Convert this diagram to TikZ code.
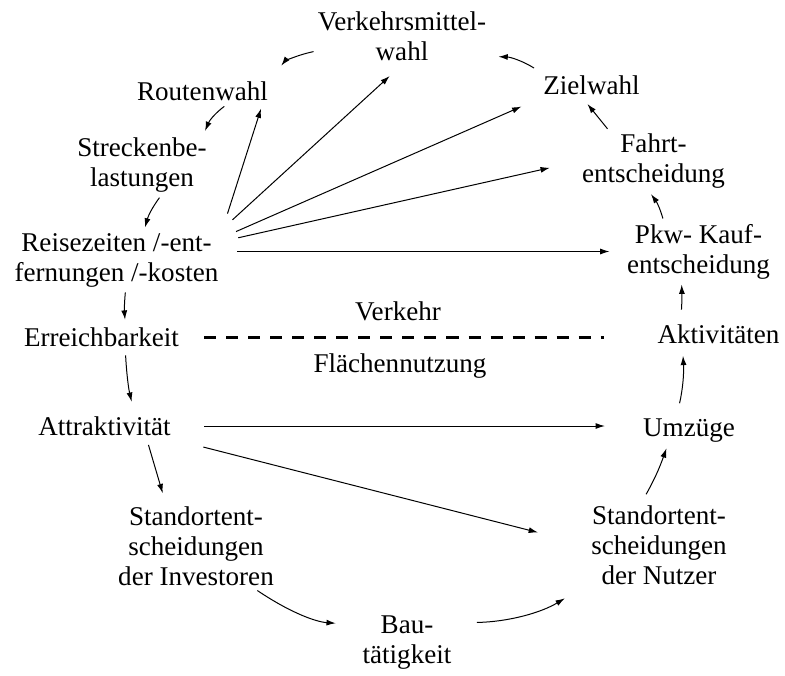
\documentclass[tikz,border=0pt]{standalone}
\usepackage{fontspec}
\setmainfont{Liberation Serif}
\usetikzlibrary{arrows.meta}

\begin{document}
\begin{tikzpicture}[x=0.75pt, y=-0.75pt,
    term/.style={align=center, inner sep=3pt, font=\fontsize{20.3}{22.5}\selectfont},
    arr/.style={-{Latex[length=7pt,width=4.5pt]}, line width=0.75pt},
    divider/.style={line width=2.2pt, dash pattern=on 9pt off 7.5pt}]
    \useasboundingbox (0,0) rectangle (785,675);

    \node[term] (vmw)     at (402,36)      {Verkehrsmittel-\\wahl};
    \node[term] (route)   at (202.5,91)    {Routenwahl};
    \node[term] (ziel)    at (591.5,85)    {Zielwahl};
    \node[term] (fahrt)   at (653.5,161.5) {Fahrt-\\entscheidung};
    \node[term] (pkw)     at (698.5,251.5) {Pkw- Kauf-\\entscheidung};
    \node[term] (strecke) at (142,165)     {Streckenbe-\\lastungen};
    \node[term] (reise)   at (116.5,260)   {Reisezeiten /-ent-\\fernungen /-kosten};
    \node[term] (erreich) at (101.5,337.5) {Erreichbarkeit};
    \node[term] (attr)    at (104.5,426)   {Attraktivität};
    \node[term] (aktiv)   at (718.5,334)   {Aktivitäten};
    \node[term] (umz)     at (689,431)     {Umzüge};
    \node[term] (invest)  at (196,546)     {Standortent-\\scheidungen\\der Investoren};
    \node[term] (nutzer)  at (659,545)     {Standortent-\\scheidungen\\der Nutzer};
    \node[term] (bau)     at (407,642.5)   {Bau-\\tätigkeit};
    \node[term] (verkehr) at (398,311.5)   {Verkehr};
    \node[term] (flaeche) at (400,366)     {Flächennutzung};

    % Verkehr / Flaechennutzung
    \draw[divider, shorten <=16pt, shorten >=37pt] (erreich.east) -- (erreich.east -| aktiv.west);

    % Kreislauf
    \draw[arr, shorten >=11pt] (vmw.190) to[bend right=20] (route.north east);
    \draw[arr, shorten <=2pt, shorten >=2pt] (route.-30) to[bend right=15] (strecke.27);
    \draw[arr, shorten <=1pt, shorten >=1pt] (strecke.-60) to[bend right=10] (reise.48);
    \draw[arr, shorten <=1pt, shorten >=3pt] (reise.-74) to[bend right=5] (erreich.30);
    \draw[arr, shorten <=3pt, shorten >=8pt] (erreich.-30) to[bend right=5] (attr.25);
    \draw[arr, shorten <=4pt, shorten >=7pt] (attr.-18) -- (invest.125);
    \draw[arr, shorten <=1pt, shorten >=17pt] (invest.-36) to[bend right=15] (bau.160);
    \draw[arr, shorten <=16pt, shorten >=19.5pt] (bau.22) to[bend right=15] (nutzer.209);
    \draw[arr, shorten <=6pt, shorten >=1pt] (nutzer.111) to[bend right=5] (umz.216);
    \draw[arr, shorten <=9pt, shorten >=6pt] (umz.127) to[bend right=8] (aktiv.201);
    \draw[arr, shorten <=8pt, shorten >=1pt] (aktiv.160) to[bend right=3] (pkw.242);
    \draw[arr, shorten <=1pt, shorten >=1pt] (pkw.138) to[bend right=10] (fahrt.-96);
    \draw[arr, shorten <=1pt, shorten >=5pt] (fahrt.145) -- (ziel.239);
    \draw[arr, shorten <=4.5pt, shorten >=6pt] (ziel.north west) to[bend right=15] (vmw.-13);

    % Reisezeiten
    \draw[arr, shorten <=12pt, shorten >=3pt] (reise.north east) -- (route.-13);
    \draw[arr, shorten <=10pt, shorten >=12.5pt] (reise.north east) -- (vmw.south);
    \draw[arr, shorten <=11pt, shorten >=14.5pt] (reise.12) -- (ziel.south west);
    \draw[arr, shorten <=12pt, shorten >=21.5pt] (reise.10) -- (fahrt.west);
    \draw[arr, shorten <=11pt, shorten >=10pt] (reise.east |- pkw.west) -- (pkw.west);

    % Attraktivitaet
    \draw[arr, shorten <=22pt, shorten >=25.5pt] (attr.east) -- (attr.east -| umz.west);
    \draw[arr, shorten <=22pt, shorten >=38pt] (attr.south east) -- (nutzer.west);
\end{tikzpicture}
\end{document}
